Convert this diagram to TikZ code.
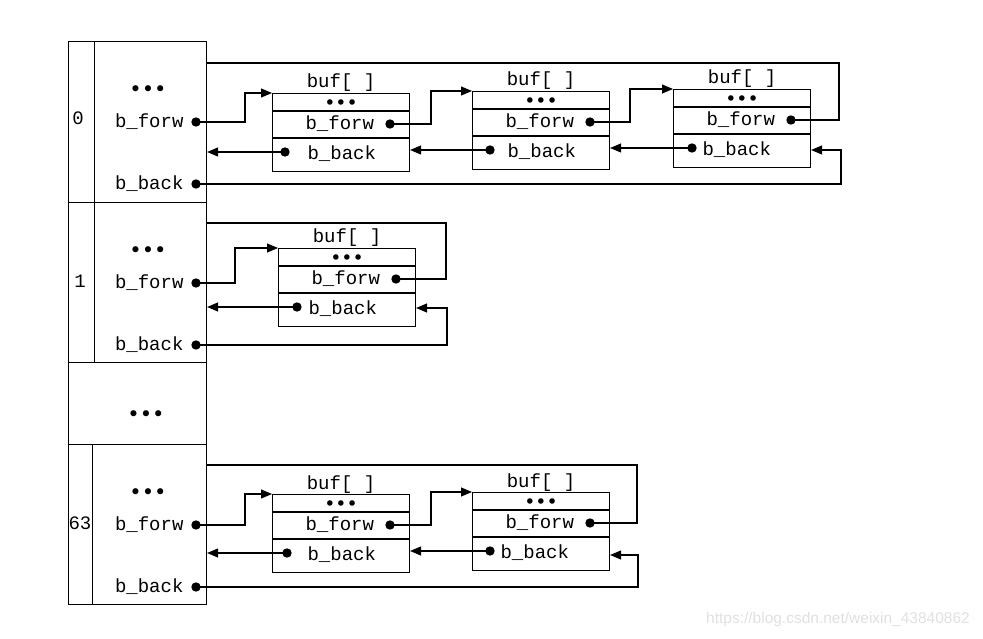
\documentclass[tikz,border=0pt]{standalone}
\usepackage{fontspec}
\setmonofont{Liberation Mono}
\newfontfamily\wmfont{Liberation Sans}
\newfontfamily\bulfont{DejaVu Sans}
\usetikzlibrary{arrows.meta}
\newcommand\headsec[2]{%
  \node[bul] (#1d) at (148,#2+50) {•••};
  \node[lbl, anchor=east] (#1ft) at (184,#2+81) {b\_forw};
  \coordinate (#1f) at (196,#2+81);
  \node[lbl, anchor=east] (#1bt) at (184,#2+143) {b\_back};
  \coordinate (#1b) at (196,#2+143);
}
\newcommand\bufbox[5]{%
  \node[box, anchor=north west] (#1) at (#2,#3) {};
  \draw ([yshift=-18pt]#1.north west) -- ([yshift=-18pt]#1.north east);
  \draw ([yshift=-45pt]#1.north west) -- ([yshift=-45pt]#1.north east);
  \node[lbl, anchor=base] (#1l) at ([yshift=5pt]#1.north) {buf[ ]};
  \node[bul, scale=0.9] (#1d) at ([yshift=-11.5pt]#1.north) {•••};
  \node[lbl, anchor=west] (#1ft) at (#2+33,#3+31) {b\_forw};
  \coordinate (#1f) at (#2+118,#3+31);
  \node[lbl, anchor=west] (#1bt) at (#2+#5,#3+61) {b\_back};
  \coordinate (#1b) at (#2+#4,#3+59);
}
\begin{document}
\begin{tikzpicture}[x=1pt,y=-1pt,line width=1.1pt,
  lbl/.style={font=\ttfamily\fontsize{19}{19}\selectfont, inner sep=0pt},
  bul/.style={font=\bulfont\fontsize{21}{21}\selectfont, inner sep=0pt},
  cell/.style={draw, anchor=north west, inner sep=0pt},
  box/.style={draw, minimum width=137pt, minimum height=78pt, inner sep=0pt},
  arr/.style={-{Triangle[length=11pt,width=9pt]}}]
\useasboundingbox (0,0) rectangle (983,639);
% head column
\node[cell, minimum width=26pt, minimum height=161pt] (i0) at (68,41) {};
\node[cell, minimum width=112pt, minimum height=161pt] (h0) at (94,41) {};
\node[cell, minimum width=26pt, minimum height=160pt] (i1) at (68,202) {};
\node[cell, minimum width=112pt, minimum height=160pt] (h1) at (94,202) {};
\node[cell, minimum width=138pt, minimum height=82pt] (hd) at (68,362) {};
\node[cell, minimum width=24pt, minimum height=160pt] (i63) at (68,444) {};
\node[cell, minimum width=114pt, minimum height=160pt] (h63) at (92,444) {};
\node[lbl] (n0) at (78,118) {0};
\node[lbl] (n1) at (80,281) {1};
\node[lbl] (n63) at (80,523) {63};
\node[bul] (hdd) at (146,416) {•••};
\headsec{h0}{41}
\headsec{h1}{202}
\headsec{h63}{444}
% buffers
\bufbox{b01}{272}{93}{13}{35}
\bufbox{b02}{472}{91}{18}{35}
\bufbox{b03}{673}{89}{19}{29}
\bufbox{b11}{278}{248}{19}{30}
\bufbox{b631}{272}{494}{15}{35}
\bufbox{b632}{472}{492}{18}{28}
% section 0
\draw[arr] (h0f) -- ++(49,0) |- (b01.north west);
\draw[arr] (b01f) -- ++(41,0) |- (b02.north west);
\draw[arr] (b02f) -- ++(40,0) |- (b03.north west);
\draw[arr] (b01b) -- (b01b -| h0.east);
\draw[arr] (b02b) -- (b02b -| b01.east);
\draw[arr] (b03b) -- (b03b -| b02.east);
\coordinate (c0t) at (839,63);
\coordinate (c0b) at (841,150);
\draw (b03f) -| (c0t) -- (c0t -| h0.east);
\draw[arr] (h0b) -| (c0b) -- (c0b -| b03.east);
% section 1
\draw[arr] (h1f) -- ++(39,0) |- (b11.north west);
\draw[arr] (b11b) -- (b11b -| h1.east);
\coordinate (c1t) at (446,223);
\coordinate (c1b) at (447,308);
\draw (b11f) -| (c1t) -- (c1t -| h1.east);
\draw[arr] (h1b) -| (c1b) -- (c1b -| b11.east);
% section 63
\draw[arr] (h63f) -- ++(49,0) |- (b631.north west);
\draw[arr] (b631f) -- ++(41,0) |- (b632.north west);
\draw[arr] (b631b) -- (b631b -| h63.east);
\draw[arr] (b632b) -- (b632b -| b631.east);
\coordinate (c63t) at (637,465);
\coordinate (c63b) at (638,555);
\draw (b632f) -| (c63t) -- (c63t -| h63.east);
\draw[arr] (h63b) -| (c63b) -- (c63b -| b632.east);
% dots
\foreach \p in {h0f,h0b,h1f,h1b,h63f,h63b,b01f,b01b,b02f,b02b,b03f,b03b,b11f,b11b,b631f,b631b,b632f,b632b}
  \fill (\p) circle (4.7pt);
% watermark
\node[font=\wmfont\fontsize{15.5}{15.5}\selectfont, text=black!12, inner sep=0pt] (wm) at (838,619) {https://blog.csdn.net/weixin\_43840862};
\end{tikzpicture}
\end{document}
